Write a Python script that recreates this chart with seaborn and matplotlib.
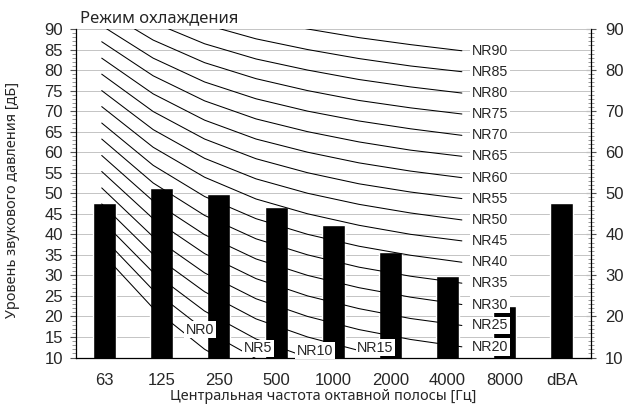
import numpy as np
import pandas as pd
import matplotlib
matplotlib.use("Agg")
import matplotlib.pyplot as plt
import seaborn as sns
from matplotlib.ticker import MultipleLocator

# ---- data ----
bands = ["63", "125", "250", "500", "1000", "2000", "4000", "8000", "dBA"]
levels = [47.6, 51.2, 49.8, 46.6, 42.3, 35.8, 29.8, 22.6, 47.6]

octave_bands = ["63", "125", "250", "500", "1000", "2000", "4000", "8000"]
nr0 = [35.5, 22.0, 12.0, 4.8, 0.0, -3.5, -6.1, -8.0]
nr5 = [39.5, 26.4, 16.7, 9.7, 5.0, 1.6, -1.0, -2.9]
nr10 = [43.4, 30.7, 21.3, 14.5, 10.0, 6.7, 4.2, 2.3]
nr15 = [47.4, 35.1, 26.0, 19.4, 15.0, 11.7, 9.3, 7.5]
nr20 = [51.3, 39.4, 30.6, 24.3, 20.0, 16.8, 14.4, 12.6]
nr25 = [55.3, 43.8, 35.3, 29.2, 25.0, 21.9, 19.5, 17.8]
nr30 = [59.2, 48.1, 39.9, 34.0, 30.0, 27.0, 24.7, 22.9]
nr35 = [63.2, 52.5, 44.6, 38.9, 35.0, 32.0, 29.8, 28.1]
nr40 = [67.1, 56.8, 49.2, 43.8, 40.0, 37.1, 34.9, 33.2]
nr45 = [71.1, 61.2, 53.9, 48.6, 45.0, 42.2, 40.0, 38.4]
nr50 = [75.0, 65.5, 58.5, 53.5, 50.0, 47.3, 45.2, 43.5]
nr55 = [79.0, 69.9, 63.2, 58.4, 55.0, 52.3, 50.3, 48.7]
nr60 = [82.9, 74.2, 67.8, 63.2, 60.0, 57.4, 55.4, 53.8]
nr65 = [86.9, 78.6, 72.5, 68.1, 65.0, 62.5, 60.5, 59.0]
nr70 = [90.8, 82.9, 77.1, 73.0, 70.0, 67.6, 65.7, 64.1]
nr75 = [94.8, 87.3, 81.8, 77.9, 75.0, 72.6, 70.8, 69.3]
nr80 = [98.7, 91.6, 86.4, 82.7, 80.0, 77.7, 75.9, 74.4]
nr85 = [102.7, 96.0, 91.1, 87.6, 85.0, 82.8, 81.0, 79.6]
nr90 = [106.6, 100.3, 95.7, 92.5, 90.0, 87.9, 86.2, 84.7]

nr_names = ["NR0", "NR5", "NR10", "NR15", "NR20", "NR25", "NR30", "NR35", "NR40",
            "NR45", "NR50", "NR55", "NR60", "NR65", "NR70", "NR75", "NR80", "NR85", "NR90"]
nr_series = [nr0, nr5, nr10, nr15, nr20, nr25, nr30, nr35, nr40,
             nr45, nr50, nr55, nr60, nr65, nr70, nr75, nr80, nr85, nr90]

title = "Режим охлаждения"
xlabel = "Центральная частота октавной полосы [Гц]"
ylabel = "Уровень звукового давления [дБ]"

# layout for the labels of curves that fall below the axis floor
low_label_xy = [(1.91, 16.8), (3.04, 12.2), (4.15, 11.7), (5.32, 12.4)]

# ---- figure ----
sns.set_style("white")
plt.rcParams["font.family"] = ["Liberation Sans", "DejaVu Sans"]
txt_font = ["Noto Sans", "DejaVu Sans"]

fig = plt.figure(figsize=(6.26, 4.08), dpi=100)
ax = fig.add_axes([76 / 626, 1 - 357.5 / 408, (590.5 - 76) / 626, (357.5 - 29) / 408])

bar_df = pd.DataFrame({"band": bands, "level": levels})
sns.barplot(data=bar_df, x="band", y="level", order=bands, color="black",
            saturation=1, width=0.4, ax=ax)
ax.set_xlim(-0.5, len(bands) - 0.5)
ax.set_ylim(10, 90)
ax.set_yticks(np.arange(10, 91, 5))
ax.yaxis.set_minor_locator(MultipleLocator(1))
ax.yaxis.grid(True, color="#c4c4c4", linewidth=0.7)
ax.set_axisbelow(True)
ax.set_xlabel("")
ax.set_ylabel("")
for s in ["top", "right"]:
    ax.spines[s].set_visible(False)
for s in ["left", "bottom"]:
    ax.spines[s].set_color("black")
    ax.spines[s].set_linewidth(0.9)
ax.tick_params(axis="y", which="major", left=True, direction="out", length=4.3,
               width=0.8, color="#555555", labelsize=12, pad=5)
ax.tick_params(axis="y", which="minor", left=True, direction="out", length=2.7,
               width=0.6, color="#888888")
ax.tick_params(axis="x", length=0, labelsize=12, pad=11)

sec = ax.secondary_yaxis("right")
sec.set_yticks(np.arange(10, 91, 10))
sec.yaxis.set_minor_locator(MultipleLocator(1))
sec.spines["right"].set_color("black")
sec.spines["right"].set_linewidth(0.9)
sec.tick_params(which="major", direction="inout", length=7.2, width=0.8,
                color="#555555", labelsize=12, pad=7)
sec.tick_params(which="minor", direction="inout", length=4.3, width=0.6, color="#888888")

# NR curves on a secondary category scale
ax2 = ax.twiny()
rows = []
for name, vals in zip(nr_names, nr_series):
    for i, v in enumerate(vals):
        rows.append({"curve": name, "idx": i, "level": v})
nr_df = pd.DataFrame(rows)
sns.lineplot(data=nr_df, x="idx", y="level", units="curve", estimator=None,
             color="black", linewidth=0.75, legend=False, ax=ax2)
ax2.set_xlim(-0.5, 9.5)
ax2.set_ylim(10, 90)
ax2.set_xlabel("")
ax2.set_ylabel("")
ax2.set_xticks([])
for s in ax2.spines.values():
    s.set_visible(False)

box = dict(boxstyle="square,pad=0.12", facecolor="white", edgecolor="none")
for k, (name, vals) in enumerate(zip(nr_names, nr_series)):
    if k < len(low_label_xy):
        x, y = low_label_xy[k]
        ax2.text(x, y, name, ha="center", va="center", fontsize=10.3, bbox=box,
                 zorder=5, clip_on=False)
    else:
        ax2.annotate(name, xy=(len(vals) - 1, vals[-1]), xytext=(7, 0),
                     textcoords="offset points", ha="left", va="center",
                     fontsize=10.3, bbox=box, zorder=5)

fig.text(80 / 626, 1 - 18 / 408, title, ha="left", va="center", fontsize=12,
         family=txt_font)
fig.text(323 / 626, 1 - 397 / 408, xlabel, ha="center", va="center", fontsize=10.4,
         family=txt_font)
fig.text(13 / 626, 1 - 200 / 408, ylabel, ha="center", va="center", rotation=90,
         fontsize=10.4, family=txt_font)

fig.savefig("out.png", dpi=100)
